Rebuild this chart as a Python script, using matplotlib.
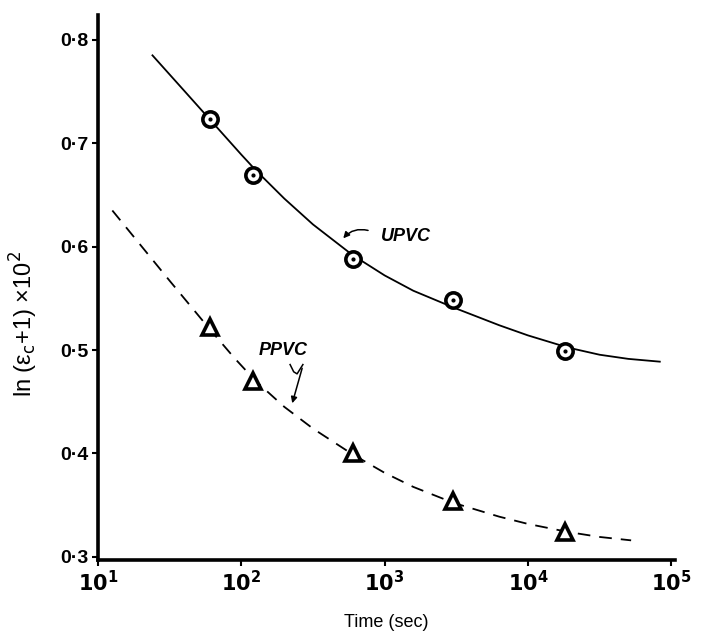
import numpy as np
import matplotlib
matplotlib.use("Agg")
import matplotlib.pyplot as plt

plt.rcParams['font.family'] = ['Liberation Sans', 'DejaVu Sans']

# measured points (time in s, strain value)
t_points = [60, 120, 600, 3000, 18000]
upvc_points = [0.723, 0.669, 0.588, 0.548, 0.499]
ppvc_points = [0.522, 0.470, 0.400, 0.354, 0.324]

# fitted curves (log10 time, value)
upvc_curve_logt = [1.38, 1.6, 1.8, 2.0, 2.1, 2.3, 2.5, 2.775, 3.0, 3.2, 3.48, 3.8, 4.0, 4.28, 4.5, 4.7, 4.92]
upvc_curve_val = [0.785, 0.751, 0.720, 0.689, 0.674, 0.6465, 0.6215, 0.592, 0.5722, 0.5574, 0.5412,
                  0.524, 0.5142, 0.5024, 0.4955, 0.4915, 0.4888]
ppvc_curve_logt = [1.1, 1.3, 1.5, 1.775, 1.95, 2.1, 2.3, 2.5, 2.775, 3.0, 3.2, 3.48, 3.8, 4.0, 4.28, 4.5, 4.72]
ppvc_curve_val = [0.635, 0.601, 0.567, 0.521, 0.4926, 0.4701, 0.4451, 0.4241, 0.3993, 0.3813, 0.3677,
                  0.3523, 0.3389, 0.3319, 0.3241, 0.3193, 0.316]

yticks = [0.3, 0.4, 0.5, 0.6, 0.7, 0.8]
ytick_labels = ["0·3", "0·4", "0·5", "0·6", "0·7", "0·8"]
xticks = [1e1, 1e2, 1e3, 1e4, 1e5]
xtick_labels = [r"$\mathbf{10^{%d}}$" % k for k in range(1, 6)]

fig = plt.figure(figsize=(7.02, 6.31), dpi=100)
ax = fig.add_axes([0.1396, 0.1125, 0.8226, 0.8637])

ax.plot(10 ** np.array(upvc_curve_logt), upvc_curve_val, color="black", lw=1.3)
ax.plot(10 ** np.array(ppvc_curve_logt), ppvc_curve_val, color="black", lw=1.3,
        linestyle=(0, (7, 5)))

ax.plot(t_points, upvc_points, "o", ms=11, mfc="white", mec="black", mew=2.6)
ax.plot(t_points, upvc_points, ".", ms=4, color="black")
ax.plot(t_points, ppvc_points, "^", ms=12, mfc="white", mec="black", mew=2.6)

ax.text(1410, 0.610, "UPVC", fontsize=13, fontweight="bold", style="italic",
        ha="center", va="center")
ax.text(195, 0.500, "PPVC", fontsize=13, fontweight="bold", style="italic",
        ha="center", va="center")

ax.annotate("", xy=(500, 0.606), xytext=(800, 0.615),
            arrowprops=dict(arrowstyle="-|>", color="black", lw=1.1,
                            connectionstyle="arc3,rad=0.35", mutation_scale=9))
ax.plot([219, 232, 245, 269], [0.486, 0.479, 0.477, 0.486], color="black", lw=1.1)
ax.annotate("", xy=(224, 0.446), xytext=(269, 0.485),
            arrowprops=dict(arrowstyle="-|>", color="black", lw=1.1, mutation_scale=9))

ax.set_xscale("log")
ax.set_xlim(10, 1.07e5)
ax.set_ylim(0.297, 0.824)
ax.set_xticks(xticks)
ax.set_xticklabels(xtick_labels, fontsize=15)
ax.xaxis.set_minor_locator(matplotlib.ticker.NullLocator())
ax.set_yticks(yticks)
ax.set_yticklabels(ytick_labels, fontsize=14, fontweight="bold")

for side in ["top", "right"]:
    ax.spines[side].set_visible(False)
for side in ["left", "bottom"]:
    ax.spines[side].set_linewidth(2.6)
ax.tick_params(axis="both", direction="out", length=4, width=1.5, pad=3)

ax.set_xlabel("Time (sec)", fontsize=13, labelpad=14)
ax.set_ylabel("ln (ε$_\\mathrm{c}$+1) ×10$^2$", fontsize=17)
ax.yaxis.set_label_coords(-0.1, 0.433)

fig.savefig("out.png", dpi=100)
